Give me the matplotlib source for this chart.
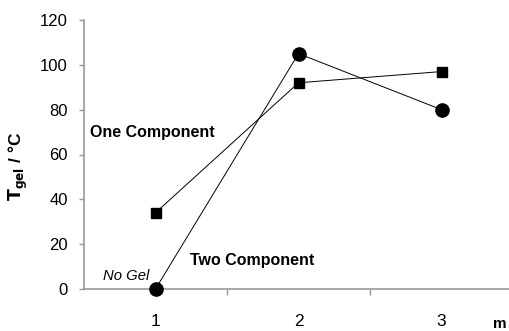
import matplotlib
matplotlib.use("Agg")
import matplotlib.pyplot as plt

plt.rcParams['font.family'] = ['Liberation Sans', 'DejaVu Sans']

m_values = [1, 2, 3]
m_labels = ["1", "2", "3"]
one_component = [34, 92, 97]
two_component = [0, 105, 80]
y_ticks = [0, 20, 40, 60, 80, 100, 120]

W, H = 509, 331
fig = plt.figure(figsize=(W / 100, H / 100), dpi=100)
ax = fig.add_axes([84 / W, 1 - 289 / H, (513 - 84) / W, (289 - 20) / H])
ax.set_xlim(0.5, 3.5)
ax.set_ylim(0, 120)

axis_grey = "#9a9a9a"
ax.plot(m_values, one_component, color="black", lw=0.7, marker="s", ms=7,
        clip_on=False, zorder=3)
ax.plot(m_values, two_component, color="black", lw=0.7, marker="o", ms=9.5,
        clip_on=False, zorder=3)

for side in ("top", "right"):
    ax.spines[side].set_visible(False)
for side in ("left", "bottom"):
    ax.spines[side].set_color(axis_grey)
    ax.spines[side].set_linewidth(1.2)

ax.set_yticks(y_ticks)
ax.set_yticklabels([str(v) for v in y_ticks], fontsize=12)
ax.tick_params(axis="y", direction="out", length=3.6, color=axis_grey, width=1, pad=8)

# category boundaries carry the x tick marks; labels sit at the category centres
ax.set_xticks([1.5, 2.5])
ax.set_xticklabels([])
ax.tick_params(axis="x", direction="out", length=4, color=axis_grey, width=1)
for x, lab in zip(m_values, m_labels):
    ax.text(x, -14.3, lab, ha="center", va="center", fontsize=12.5,
            transform=ax.transData, clip_on=False)

fig.text(500 / W, 1 - 324 / H, "m", ha="center", va="center",
         fontsize=11, fontweight="bold")

ax.text(90 / W, 1 - 132 / H, "One Component", transform=fig.transFigure,
        ha="left", va="center", fontsize=11.5, fontweight="bold")
ax.text(190 / W, 1 - 261 / H, "Two Component", transform=fig.transFigure,
        ha="left", va="center", fontsize=11.5, fontweight="bold")
ax.text(103 / W, 1 - 276 / H, "No Gel", transform=fig.transFigure,
        ha="left", va="center", fontsize=10.7, fontstyle="italic")

fig.text(18 / W, 1 - 166 / H, r"$\mathbf{T_{gel}}$ / °C", rotation=90,
         ha="center", va="center", fontsize=12.5, fontweight="bold")

fig.savefig("out.png", dpi=100)
